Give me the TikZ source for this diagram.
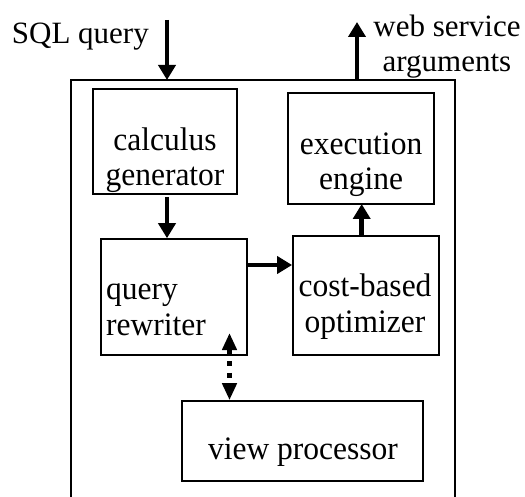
\documentclass[tikz,border=0pt]{standalone}
\usepackage{fontspec}
\setmainfont{Liberation Serif}
\usetikzlibrary{arrows.meta,calc}
\begin{document}
\begin{tikzpicture}[x=1pt,y=-1pt,
  box/.style={draw,line width=1.6pt,inner sep=0pt},
  txt/.style={inner sep=0pt,font=\fontsize{31}{35}\selectfont,align=center},
  txtin/.style={inner sep=0pt,font=\fontsize{31.5}{33.7}\selectfont,align=center,yscale=1.04},
  arr/.style={line width=4.5pt,-{Triangle[width=17pt,length=15pt]}},
  dotarr/.style={line width=5pt,dash pattern=on 5pt off 7pt,{Triangle[width=14pt,length=17pt]}-{Triangle[width=14pt,length=17pt]}}]
\useasboundingbox (0,0) rectangle (525,497);
% outer frame (open at the bottom)
\draw[line width=1.8pt] (71,497) -- (71,80) -- (455,80) -- (455,497);
% boxes
\node[box,minimum width=144pt,minimum height=105pt] (calc) at (165,141.5) {};
\node[box,minimum width=146pt,minimum height=111pt] (exec) at (361,148.5) {};
\node[box,minimum width=146pt,minimum height=116pt] (rw) at (173.7,297) {};
\node[box,minimum width=146pt,minimum height=119pt] (cost) at (365.9,295.5) {};
\node[box,minimum width=241pt,minimum height=80pt] (vp) at (302.5,441) {};
% texts (base anchor = baseline of the last line)
\node[txtin,anchor=base] (calcT) at (165,186) {calculus\\generator};
\node[txtin,anchor=base] (execT) at (361,190) {execution\\engine};
\node[txtin,anchor=base west,align=left] (rwT) at (106,335) {query\\rewriter};
\node[txtin,anchor=base] (costT) at (365,332) {cost-based\\optimizer};
\node[txtin,anchor=base] (vpT) at (303,459) {view processor};
\node[txt,anchor=base east] (sqlT) at (149,44) {SQL query};
\node[txt,anchor=base] (webT) at (447,72) {web service\\arguments};
% connectors
\coordinate (sqlS) at (167,20);
\coordinate (webE) at (357,22);
\draw[arr] (sqlS) -- (sqlS |- 0,80);
\draw[arr] (webE |- 0,81) -- (webE);
\draw[arr] (calc.south -| sqlS) ++(0,2) -- (sqlS |- rw.north);
\coordinate (rwout) at ([yshift=32pt]rw.east);
\draw[arr] (rwout) -- (rwout -| cost.west);
\draw[arr] (cost.north -| 361.7,0) -- (361.7,204);
\coordinate (vpt) at (229.5,333);
\draw[dotarr] (vpt) -- (vpt |- vp.north);
\end{tikzpicture}
\end{document}
